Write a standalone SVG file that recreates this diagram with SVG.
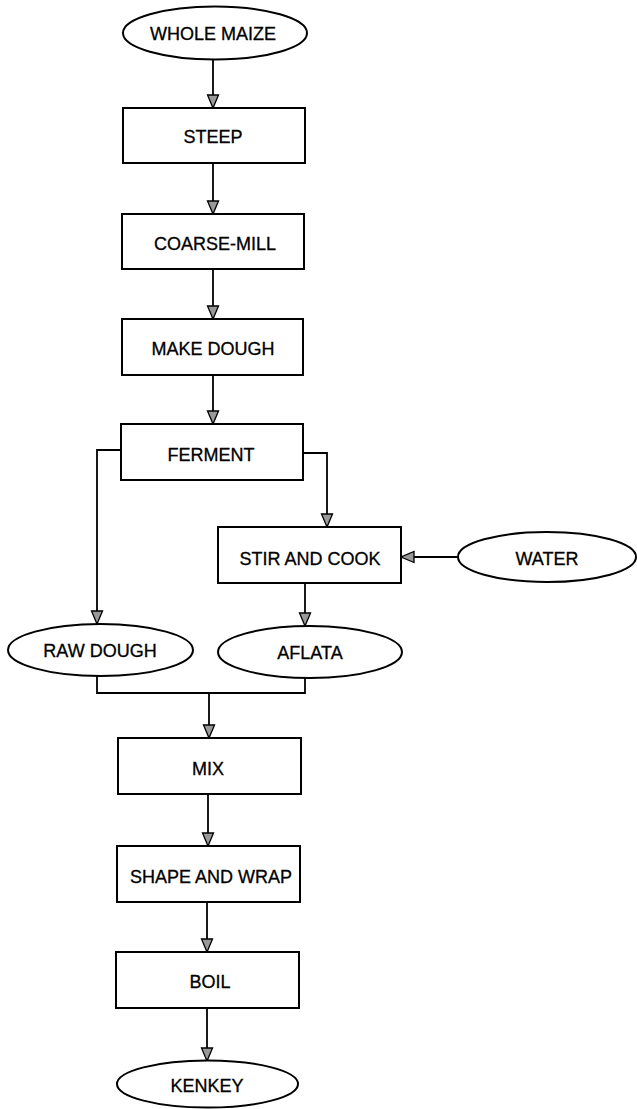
<svg xmlns="http://www.w3.org/2000/svg" width="637" height="1109" viewBox="0 0 637 1109">
<style>
.n{fill:#fff;stroke:#000;stroke-width:2}
.t{font-family:"Liberation Sans",Arial,sans-serif;font-size:18px;fill:#000;stroke:#000;stroke-width:0.3;text-anchor:middle}
.c{fill:none;stroke:#000;stroke-width:1.8}
</style>
<defs>
<marker id="ah" markerWidth="13" markerHeight="11" refX="13" refY="5.5" orient="auto" markerUnits="userSpaceOnUse" viewBox="0 0 13 11" overflow="visible">
<path d="M0,0 L13,5.5 L0,11 Z" fill="#999" stroke="#000" stroke-width="1.3"/>
</marker>
</defs>
<rect width="637" height="1109" fill="#fff"/>
<g id="connectors">
<path class="c" d="M213 60 V108" marker-end="url(#ah)"/>
<path class="c" d="M213 163 V214" marker-end="url(#ah)"/>
<path class="c" d="M213 269 V319" marker-end="url(#ah)"/>
<path class="c" d="M213 375 V424" marker-end="url(#ah)"/>
<path class="c" d="M121 450 H97 V624" marker-end="url(#ah)"/>
<path class="c" d="M303 453 H327 V527" marker-end="url(#ah)"/>
<path class="c" d="M458 557 H401" marker-end="url(#ah)"/>
<path class="c" d="M305 583 V626" marker-end="url(#ah)"/>
<path class="c" d="M97 676 V693 H305 V678"/>
<path class="c" d="M209 693 V738" marker-end="url(#ah)"/>
<path class="c" d="M208 794 V846" marker-end="url(#ah)"/>
<path class="c" d="M207 902 V952" marker-end="url(#ah)"/>
<path class="c" d="M207 1008 V1061" marker-end="url(#ah)"/>
</g>
<g id="whole-maize"><ellipse class="n" cx="215" cy="33" rx="92" ry="26.5"/><text class="t" x="213" y="40">WHOLE MAIZE</text></g>
<g id="steep"><rect class="n" x="123" y="108" width="182" height="55"/><text class="t" x="213" y="143">STEEP</text></g>
<g id="coarse-mill"><rect class="n" x="122" y="214" width="182" height="55"/><text class="t" x="215" y="250">COARSE-MILL</text></g>
<g id="make-dough"><rect class="n" x="122" y="319" width="181" height="56"/><text class="t" x="213" y="355">MAKE DOUGH</text></g>
<g id="ferment"><rect class="n" x="121" y="424" width="182" height="56"/><text class="t" x="211" y="461">FERMENT</text></g>
<g id="stir-and-cook"><rect class="n" x="218" y="527" width="183" height="56"/><text class="t" x="310" y="565">STIR AND COOK</text></g>
<g id="water"><ellipse class="n" cx="547" cy="557" rx="89" ry="25"/><text class="t" x="547" y="565">WATER</text></g>
<g id="raw-dough"><ellipse class="n" cx="100.5" cy="650" rx="92.5" ry="26"/><text class="t" x="100" y="657">RAW DOUGH</text></g>
<g id="aflata"><ellipse class="n" cx="310" cy="652" rx="92" ry="26"/><text class="t" x="310" y="659">AFLATA</text></g>
<g id="mix"><rect class="n" x="118" y="738" width="183" height="56"/><text class="t" x="208" y="775">MIX</text></g>
<g id="shape-and-wrap"><rect class="n" x="117" y="846" width="183" height="56"/><text class="t" x="211" y="883">SHAPE AND WRAP</text></g>
<g id="boil"><rect class="n" x="116" y="952" width="183" height="56"/><text class="t" x="210" y="988">BOIL</text></g>
<g id="kenkey"><ellipse class="n" cx="207.5" cy="1084" rx="90.5" ry="23.5"/><text class="t" x="207" y="1092">KENKEY</text></g>
</svg>
